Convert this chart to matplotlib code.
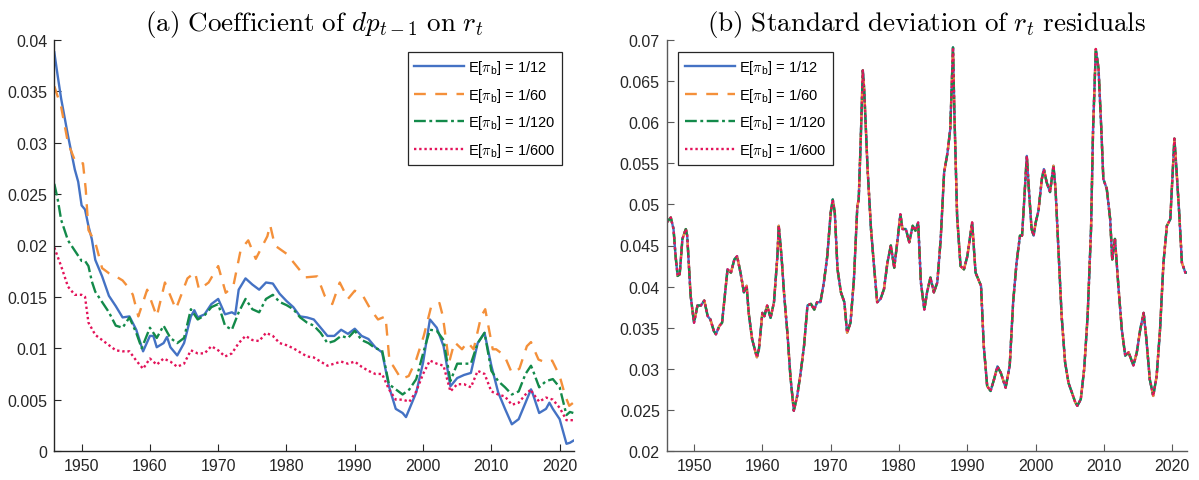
import numpy as np
import matplotlib; matplotlib.use("Agg")
import matplotlib.pyplot as plt
from matplotlib.ticker import FuncFormatter, MultipleLocator

plt.rcParams["font.family"] = ["Liberation Sans", "DejaVu Sans"]
plt.rcParams["mathtext.fontset"] = "cm"

# ---- panel (a): coefficient of dp_{t-1} on r_t ----
blue_yr = [1946.0, 1946.5, 1947, 1948, 1949, 1949.5, 1950, 1950.5, 1951, 1951.5, 1952, 1953, 1954, 1955,
           1956, 1957, 1958, 1959, 1960, 1960.5, 1961, 1962, 1962.5, 1963, 1964, 1965, 1966, 1966.5,
           1967, 1968, 1969, 1970, 1971, 1972, 1972.5, 1973, 1974, 1975, 1976, 1977, 1978, 1979, 1980,
           1981, 1982, 1983, 1984, 1985, 1986, 1987, 1988, 1989, 1990, 1991, 1992, 1993, 1994, 1995,
           1996, 1997, 1997.5, 1998, 1999, 2000, 2001, 2002, 2003, 2004, 2005, 2006, 2007, 2008, 2009,
           2010, 2011, 2012, 2013, 2014, 2015, 2015.8, 2016, 2017, 2018, 2018.5, 2019, 2020, 2021,
           2021.5, 2022]
blue_v = [0.0388, 0.0365, 0.0343, 0.0307, 0.0274, 0.0262, 0.0239, 0.0235, 0.0219, 0.0206, 0.0186, 0.0170,
          0.0151, 0.0141, 0.0130, 0.0131, 0.0118, 0.0097, 0.0112, 0.0112, 0.0101, 0.0105, 0.0111, 0.0101,
          0.0093, 0.0105, 0.0131, 0.0137, 0.0130, 0.0133, 0.0143, 0.0148, 0.0133, 0.0135, 0.0133, 0.0157,
          0.0168, 0.0162, 0.0157, 0.0164, 0.0163, 0.0153, 0.0146, 0.0140, 0.0131, 0.0130, 0.0128, 0.0120,
          0.0112, 0.0112, 0.0118, 0.0114, 0.0119, 0.0112, 0.0109, 0.0101, 0.0096, 0.0063, 0.0041, 0.0037,
          0.0033, 0.0041, 0.0057, 0.0086, 0.0128, 0.0120, 0.0102, 0.0063, 0.0071, 0.0074, 0.0076, 0.0105,
          0.0115, 0.0083, 0.0057, 0.0041, 0.0026, 0.0031, 0.0047, 0.0060, 0.0057, 0.0037, 0.0041, 0.0047,
          0.0041, 0.0031, 0.0007, 0.0008, 0.0010]

orange_yr = [1946.0, 1946.5, 1947, 1948, 1949, 1949.5, 1950.2, 1950.6, 1951, 1952, 1953, 1954, 1955, 1956,
             1957, 1957.5, 1958.3, 1959.6, 1961, 1962.2, 1963.8, 1965.5, 1966.6, 1967.2, 1968.6, 1970,
             1971.1, 1972.2, 1973.3, 1974.4, 1975.5, 1977.2, 1977.6, 1978.3, 1980, 1981.1, 1982.8, 1984.5,
             1985.6, 1986.7, 1987.8, 1989, 1990, 1991.2, 1992.3, 1993.4, 1994.5, 1995.1, 1995.6, 1996.8,
             1997.9, 1999, 2000.1, 2001.2, 2002.4, 2002.9, 2003.8, 2004.6, 2005.7, 2006.5, 2007.4, 2008.5,
             2009.1, 2010.2, 2010.7, 2011.9, 2013, 2014.1, 2015.2, 2015.8, 2016.9, 2018, 2018.9, 2020,
             2020.8, 2021.4, 2022]
orange_v = [0.0355, 0.0345, 0.0335, 0.0300, 0.0283, 0.0280, 0.0280, 0.0255, 0.0215, 0.0203, 0.0178, 0.0173,
            0.0170, 0.0166, 0.0158, 0.0152, 0.0131, 0.0157, 0.0131, 0.0164, 0.0138, 0.0168, 0.0174, 0.0157,
            0.0164, 0.0180, 0.0154, 0.0160, 0.0196, 0.0205, 0.0187, 0.0209, 0.0220, 0.0200, 0.0192, 0.0183,
            0.0169, 0.0170, 0.0151, 0.0143, 0.0164, 0.0148, 0.0156, 0.0151, 0.0138, 0.0128, 0.0131, 0.0086,
            0.0083, 0.0070, 0.0073, 0.0089, 0.0112, 0.0141, 0.0144, 0.0131, 0.0086, 0.0106, 0.0099, 0.0106,
            0.0099, 0.0131, 0.0138, 0.0099, 0.0099, 0.0093, 0.0076, 0.0080, 0.0102, 0.0106, 0.0089, 0.0086,
            0.0088, 0.0073, 0.0054, 0.0044, 0.0047]

green_yr = [1946.0, 1946.5, 1947, 1948, 1949, 1950, 1950.5, 1951, 1951.5, 1952, 1953, 1954, 1955, 1956,
            1957, 1958, 1958.8, 1960, 1961, 1962, 1963, 1964, 1965, 1966, 1967, 1968, 1969, 1970, 1971,
            1972, 1973, 1974, 1975, 1976, 1977, 1978, 1979, 1980, 1981, 1982, 1983, 1984, 1985, 1986,
            1987, 1988, 1989, 1990, 1991, 1992, 1993, 1994, 1995, 1996, 1997, 1998, 1999, 2000, 2001,
            2002, 2003, 2004, 2005, 2006, 2007, 2008, 2009, 2010, 2011, 2012, 2013, 2014, 2015, 2015.8,
            2016, 2017, 2018, 2019, 2020, 2021, 2021.5, 2022]
green_v = [0.0260, 0.0245, 0.0225, 0.0205, 0.0195, 0.0185, 0.0185, 0.0180, 0.0165, 0.0155, 0.0145, 0.0135,
           0.0122, 0.0120, 0.0130, 0.0115, 0.0100, 0.0120, 0.0110, 0.0122, 0.0110, 0.0105, 0.0110, 0.0138,
           0.0128, 0.0132, 0.0140, 0.0143, 0.0122, 0.0118, 0.0135, 0.0148, 0.0138, 0.0135, 0.0148, 0.0152,
           0.0145, 0.0142, 0.0138, 0.0130, 0.0125, 0.0122, 0.0115, 0.0105, 0.0107, 0.0112, 0.0110, 0.0117,
           0.0108, 0.0105, 0.0100, 0.0098, 0.0065, 0.0060, 0.0055, 0.0060, 0.0070, 0.0095, 0.0118, 0.0117,
           0.0108, 0.0068, 0.0085, 0.0085, 0.0085, 0.0105, 0.0115, 0.0078, 0.0068, 0.0062, 0.0055, 0.0058,
           0.0075, 0.0083, 0.0080, 0.0062, 0.0068, 0.0070, 0.0062, 0.0035, 0.0038, 0.0037]

red_yr = [1946.0, 1947, 1948, 1949, 1950, 1950.5, 1951, 1952, 1953, 1954, 1955, 1956, 1957, 1958, 1959,
          1960, 1961, 1962, 1963, 1964, 1965, 1966, 1967, 1968, 1969, 1970, 1971, 1972, 1973, 1974, 1975,
          1976, 1977, 1978, 1979, 1980, 1981, 1982, 1983, 1984, 1985, 1986, 1987, 1988, 1989, 1990, 1991,
          1992, 1993, 1994, 1995, 1996, 1997, 1998, 1999, 2000, 2001, 2002, 2003, 2004, 2005, 2006, 2007,
          2008, 2009, 2010, 2011, 2012, 2013, 2014, 2015, 2015.8, 2016, 2017, 2018, 2019, 2020, 2021, 2022]
red_v = [0.0198, 0.0180, 0.0160, 0.0152, 0.0152, 0.0150, 0.0125, 0.0113, 0.0108, 0.0103, 0.0098, 0.0097,
         0.0097, 0.0088, 0.0080, 0.0090, 0.0084, 0.0090, 0.0087, 0.0082, 0.0085, 0.0098, 0.0095, 0.0095,
         0.0102, 0.0098, 0.0092, 0.0095, 0.0105, 0.0112, 0.0108, 0.0107, 0.0115, 0.0112, 0.0105, 0.0103,
         0.0100, 0.0096, 0.0092, 0.0091, 0.0087, 0.0083, 0.0085, 0.0087, 0.0085, 0.0087, 0.0082, 0.0078,
         0.0075, 0.0075, 0.0060, 0.0050, 0.0050, 0.0048, 0.0058, 0.0075, 0.0088, 0.0085, 0.0083, 0.0058,
         0.0065, 0.0065, 0.0062, 0.0078, 0.0075, 0.0058, 0.0055, 0.0053, 0.0045, 0.0047, 0.0055, 0.0060,
         0.0057, 0.0048, 0.0052, 0.0050, 0.0042, 0.0030, 0.0030]

# ---- panel (b): standard deviation of r_t residuals (all four series overlap) ----
sd_yr = [1946.0, 1946.6, 1947.0, 1947.3, 1947.6, 1947.9, 1948.3, 1948.8, 1949.0, 1949.5, 1950.0, 1950.5,
         1951.0, 1951.5, 1952.0, 1952.4, 1952.9, 1953.2, 1953.7, 1954.1, 1954.6, 1954.9, 1955.4, 1955.9,
         1956.3, 1956.8, 1957.3, 1957.7, 1958.0, 1958.5, 1959.2, 1959.5, 1960.0, 1960.3, 1960.7, 1961.2,
         1961.7, 1962.2, 1962.4, 1962.8, 1963.2, 1963.7, 1964.1, 1964.6, 1965.1, 1965.6, 1966.1, 1966.6,
         1967.1, 1967.6, 1968.0, 1968.5, 1969.0, 1969.5, 1970.0, 1970.3, 1970.6, 1971.0, 1971.5, 1972.0,
         1972.4, 1972.9, 1973.4, 1973.9, 1974.1, 1974.4, 1974.7, 1974.9, 1975.4, 1975.9, 1976.3, 1976.8,
         1977.3, 1977.8, 1978.3, 1978.8, 1979.3, 1979.8, 1980.2, 1980.5, 1981.0, 1981.5, 1982.0, 1982.4,
         1982.8, 1983.2, 1983.7, 1984.1, 1984.6, 1985.1, 1985.6, 1986.1, 1986.6, 1987.1, 1987.5, 1987.9,
         1988.1, 1988.5, 1989.0, 1989.5, 1990.0, 1990.7, 1991.2, 1992.0, 1992.4, 1992.9, 1993.4, 1993.9,
         1994.4, 1994.9, 1995.6, 1996.2, 1996.7, 1997.2, 1997.7, 1998.0, 1998.3, 1998.7, 1999.0, 1999.4,
         1999.7, 2000.0, 2000.4, 2000.9, 2001.2, 2001.6, 2002.1, 2002.6, 2002.9, 2003.3, 2003.8, 2004.3,
         2004.8, 2005.3, 2005.8, 2006.1, 2006.6, 2007.1, 2007.6, 2008.1, 2008.4, 2008.8, 2009.2, 2009.6,
         2009.9, 2010.4, 2010.9, 2011.2, 2011.6, 2012.1, 2012.6, 2013.1, 2013.6, 2014.3, 2014.8, 2015.3,
         2015.8, 2016.2, 2016.7, 2017.2, 2017.7, 2018.2, 2018.7, 2019.2, 2019.7, 2020.0, 2020.3, 2020.6,
         2021.0, 2021.4, 2021.9, 2022.1]
sd_v = [0.0478, 0.0484, 0.0470, 0.0437, 0.0413, 0.0415, 0.0458, 0.0470, 0.0462, 0.0389, 0.0356, 0.0377,
        0.0377, 0.0383, 0.0364, 0.0360, 0.0346, 0.0342, 0.0352, 0.0356, 0.0397, 0.0421, 0.0417, 0.0433,
        0.0437, 0.0417, 0.0393, 0.0401, 0.0368, 0.0336, 0.0314, 0.0324, 0.0368, 0.0364, 0.0377, 0.0362,
        0.0381, 0.0437, 0.0474, 0.0437, 0.0389, 0.0340, 0.0291, 0.0249, 0.0267, 0.0295, 0.0328, 0.0377,
        0.0379, 0.0372, 0.0381, 0.0381, 0.0405, 0.0437, 0.0490, 0.0506, 0.0490, 0.0421, 0.0393, 0.0381,
        0.0344, 0.0356, 0.0409, 0.0498, 0.0506, 0.0580, 0.0663, 0.0640, 0.0543, 0.0470, 0.0429, 0.0381,
        0.0385, 0.0397, 0.0429, 0.0450, 0.0423, 0.0458, 0.0488, 0.0470, 0.0470, 0.0454, 0.0474, 0.0468,
        0.0478, 0.0405, 0.0372, 0.0393, 0.0411, 0.0393, 0.0405, 0.0458, 0.0539, 0.0563, 0.0592, 0.0691,
        0.0612, 0.0486, 0.0425, 0.0421, 0.0437, 0.0478, 0.0417, 0.0401, 0.0328, 0.0279, 0.0273, 0.0287,
        0.0303, 0.0295, 0.0277, 0.0304, 0.0381, 0.0429, 0.0462, 0.0462, 0.0502, 0.0559, 0.0519, 0.0470,
        0.0462, 0.0478, 0.0492, 0.0531, 0.0543, 0.0527, 0.0515, 0.0547, 0.0519, 0.0450, 0.0364, 0.0308,
        0.0283, 0.0271, 0.0259, 0.0255, 0.0263, 0.0300, 0.0364, 0.0470, 0.0592, 0.0689, 0.0665, 0.0592,
        0.0531, 0.0519, 0.0482, 0.0433, 0.0458, 0.0401, 0.0348, 0.0316, 0.0320, 0.0304, 0.0320, 0.0348,
        0.0368, 0.0336, 0.0287, 0.0267, 0.0291, 0.0348, 0.0429, 0.0474, 0.0482, 0.0531, 0.0580, 0.0543,
        0.0490, 0.0429, 0.0417, 0.0417]

labels = [r"E[$\pi_{\mathregular{b}}$] = 1/12", r"E[$\pi_{\mathregular{b}}$] = 1/60",
          r"E[$\pi_{\mathregular{b}}$] = 1/120", r"E[$\pi_{\mathregular{b}}$] = 1/600"]
colors = ["#4472C4", "#F4903A", "#138A4A", "#E3135A"]
styles = ["-", (0, (5, 4)), (0, (5, 1.5, 1.2, 1.5)), (0, (1, 1.2))]

left_series = [(blue_yr, blue_v), (orange_yr, orange_v), (green_yr, green_v), (red_yr, red_v)]
right_series = [(sd_yr, sd_v)] * 4

fig = plt.figure(figsize=(11.99, 4.81), dpi=100)
ax1 = fig.add_axes([54.3 / 1199, 1 - 452 / 481, (574 - 54.3) / 1199, 411 / 481])
ax2 = fig.add_axes([666.7 / 1199, 1 - 452 / 481, (1186.7 - 666.7) / 1199, 411 / 481])

fmt = FuncFormatter(lambda v, p: f"{v:g}")
for ax, series, axcol in [(ax1, left_series, "#262626"), (ax2, right_series, "#5a5a5a")]:
    for (yr, v), c, ls, lab in zip(series, colors, styles, labels):
        ax.plot(yr, v, color=c, ls=ls, lw=1.7, label=lab)
    ax.set_xlim(1946.0, 2022.1)
    ax.xaxis.set_major_locator(MultipleLocator(10))
    ax.yaxis.set_major_locator(MultipleLocator(0.005))
    ax.yaxis.set_major_formatter(fmt)
    for s in ["top", "right"]:
        ax.spines[s].set_visible(False)
    for s in ["left", "bottom"]:
        ax.spines[s].set_color(axcol)
        ax.spines[s].set_linewidth(1.0)
    ax.tick_params(direction="in", length=5, width=0.8, color=axcol, labelcolor="#262626",
                   labelsize=11.5, pad=5)

ax1.set_ylim(0, 0.04)
ax2.set_ylim(0.02, 0.07)

leg_kw = dict(fontsize=10.5, frameon=True, fancybox=False, framealpha=1, handlelength=3.4,
              handletextpad=0.3, labelspacing=0.65, borderpad=0.45, borderaxespad=0.8)
l1 = ax1.legend(loc="upper right", **leg_kw)
l2 = ax2.legend(loc="upper left", **leg_kw)
for l in (l1, l2):
    l.get_frame().set_edgecolor("#262626")
    l.get_frame().set_linewidth(0.9)

ax1.set_title(r"$\mathrm{(a)\ Coefficient\ of\ }dp_{t-1}\mathrm{\ on\ }r_t$", fontsize=19.5, pad=7)
ax2.set_title(r"$\mathrm{(b)\ Standard\ deviation\ of\ }r_t\mathrm{\ residuals}$", fontsize=19.5, pad=7)

fig.savefig("out.png", dpi=100)
